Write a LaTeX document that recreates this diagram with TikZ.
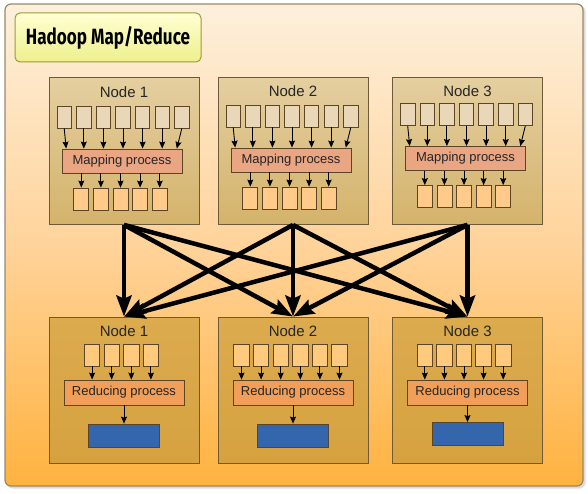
\documentclass[tikz,border=0pt]{standalone}
\usepackage{fontspec}
\setmainfont{Liberation Sans}
\newfontfamily\titlefont{Fira Sans}
\usetikzlibrary{arrows.meta,calc}
\definecolor{bgtop}{HTML}{FDF0DC}
\definecolor{bgmid}{HTML}{FFD39A}
\definecolor{bgbot}{HTML}{FFB23F}
\definecolor{outerline}{HTML}{9A8868}
\definecolor{titletop}{HTML}{FFFFD2}
\definecolor{titlebot}{HTML}{EEF08C}
\definecolor{titleline}{HTML}{9E9A3A}
\definecolor{mtop}{HTML}{E4CFA0}
\definecolor{mbot}{HTML}{D4B36B}
\definecolor{rtop}{HTML}{DCAB4E}
\definecolor{rbot}{HTML}{D6A240}
\definecolor{boxline}{HTML}{6E5A38}
\definecolor{elline}{HTML}{5C4426}
\definecolor{infill}{HTML}{EAD7B8}
\definecolor{outfill}{HTML}{FFCA8A}
\definecolor{rinfill}{HTML}{FFC97E}
\definecolor{mapfill}{HTML}{EAA582}
\definecolor{redfill}{HTML}{F09E58}
\definecolor{bluefill}{HTML}{3466AD}
\begin{document}
\begin{tikzpicture}[x=1pt,y=-1pt,
  titlebox/.style={draw=titleline, line width=1pt, rounded corners=5pt,
    top color=titletop, bottom color=titlebot, minimum width=186pt,
    minimum height=49pt, inner sep=0pt},
  mapnode/.style={draw=boxline, line width=0.8pt, top color=mtop, bottom color=mbot,
    minimum width=150pt, minimum height=147pt, inner sep=0pt},
  rednode/.style={draw=boxline, line width=0.8pt, top color=rtop, bottom color=rbot,
    minimum width=150pt, minimum height=146pt, inner sep=0pt},
  nodetitle/.style={font=\fontsize{15pt}{18pt}\selectfont, text=black!85, inner sep=0pt},
  inbox/.style={draw=elline, line width=0.8pt, fill=infill, minimum width=14.5pt,
    minimum height=22pt, inner sep=0pt},
  outbox/.style={draw=elline, line width=0.8pt, fill=outfill, minimum width=15pt,
    minimum height=22pt, inner sep=0pt},
  rinbox/.style={draw=elline, line width=0.8pt, fill=rinfill, minimum width=15.5pt,
    minimum height=22pt, inner sep=0pt},
  mapproc/.style={draw=elline, line width=0.8pt, fill=mapfill, minimum width=120pt,
    minimum height=24pt, inner sep=0pt, font=\fontsize{13pt}{15pt}\selectfont, text=black!85},
  redproc/.style={draw=elline, line width=0.8pt, fill=redfill, minimum width=120pt,
    minimum height=25pt, inner sep=0pt, font=\fontsize{13pt}{15pt}\selectfont, text=black!85},
  bluebox/.style={draw=elline, line width=0.8pt, fill=bluefill, minimum width=71pt,
    minimum height=23pt, inner sep=0pt},
  smallarrow/.style={draw=black, line width=0.9pt, -{Stealth[length=7pt, width=6pt, inset=1pt]}},
  bigarrow/.style={draw=black, line width=4.5pt, -{Stealth[length=21pt, width=15pt, inset=3pt]}}
]
\useasboundingbox (0,0) rectangle (588,494);
% soft shadow and outer frame
\fill[black!8, rounded corners=7pt] (7,6) rectangle (586,489);
\fill[black!14, rounded corners=6pt] (6,5) rectangle (585,488);
\draw[outerline, line width=1.2pt, rounded corners=6pt, top color=bgtop, bottom color=bgbot, middle color=bgmid]
  (5,4) rectangle (583,486);
% title
\node[titlebox] (title) at (108,37.5) {\resizebox{164pt}{18pt}{\titlefont\bfseries Hadoop Map/Reduce}};
% mapping nodes
\foreach \i/\cx/\dy in {1/124/0, 2/293/-1, 3/467.5/-2.5} {
  \node[mapnode] (m\i) at (\cx,151) {};
  \node[nodetitle] (m\i-t) at (\cx,{92+\dy*0.5}) {Node \i};
  \foreach \k in {1,...,7}
    \node[inbox] (m\i-i\k) at ({\cx-1+(\k-4)*19.6},{117+\dy}) {};
  \node[mapproc] (m\i-p) at ({\cx-2},{161+\dy}) {Mapping process};
  \foreach \k in {1,...,5}
    \node[outbox] (m\i-o\k) at ({\cx-3.5+(\k-3)*19.6},{199+\dy}) {};
  \foreach \k in {2,...,6}
    \draw[smallarrow] (m\i-i\k.south) -- (m\i-i\k.south |- m\i-p.north);
  \draw[smallarrow] (m\i-i1.south) -- ($(m\i-i1.south |- m\i-p.north)+(2,0)$);
  \draw[smallarrow] (m\i-i7.south) -- ($(m\i-i7.south |- m\i-p.north)+(-5,0)$);
  \foreach \k in {1,...,5}
    \draw[smallarrow] (m\i-p.south -| m\i-o\k) -- (m\i-o\k.north);
}
% reducing nodes
\foreach \i/\cx/\n/\ox/\dy in {1/124/4/-2.5/0, 2/293/6/-2.5/0, 3/467.5/5/-3.5/-1.5} {
  \node[rednode] (r\i) at (\cx,390) {};
  \node[nodetitle] (r\i-t) at (\cx,331) {Node \i};
  \foreach \k in {1,...,\n}
    \node[rinbox] (r\i-i\k) at ({\cx+\ox+(\k-(\n+1)/2)*19.6},355) {};
  \node[redproc] (r\i-p) at (\cx,392.5) {Reducing process};
  \node[bluebox] (r\i-b) at (\cx,{435.5+\dy}) {};
  \foreach \k in {1,...,\n}
    \draw[smallarrow] (r\i-i\k.south) -- (r\i-i\k.south |- r\i-p.north);
  \draw[smallarrow] (r\i-p.south) -- (r\i-b.north);
}
% shuffle arrows
\foreach \a in {1,2,3}
  \foreach \b in {1,2,3}
    \draw[bigarrow] (m\a.south) -- (r\b.north);
\end{tikzpicture}
\end{document}
